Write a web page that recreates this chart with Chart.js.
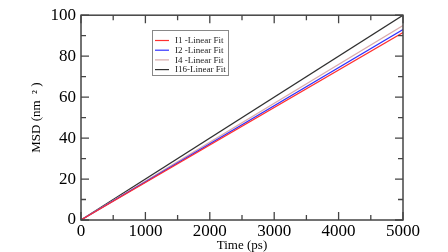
<!DOCTYPE html>
<html>
<head>
<meta charset="utf-8">
<script src="https://cdn.jsdelivr.net/npm/chart.js@4/dist/chart.umd.min.js"></script>
<style>
html,body{margin:0;padding:0;background:#fff;}
#wrap{width:448px;height:252px;}
</style>
</head>
<body>
<div id="wrap"><canvas id="c" width="448" height="252"></canvas></div>
<script>
const timePs = [0, 5000];
const msdI1 = [0, 91.5];
const msdI2 = [0, 93.0];
const msdI4 = [0, 95.0];
const msdI16 = [0, 100.0];
const seriesLabels = ['I1 -Linear Fit', 'I2 -Linear Fit', 'I4 -Linear Fit', 'I16-Linear Fit'];
const seriesColors = ['#ff3030', '#3030ff', '#d9aaaa', '#303030'];
const seriesValues = [msdI1, msdI2, msdI4, msdI16];

const datasets = seriesValues.map((vals, i) => ({
  label: seriesLabels[i],
  data: timePs.map((t, j) => ({x: t, y: vals[j]})),
  borderColor: seriesColors[i],
  backgroundColor: seriesColors[i],
  borderWidth: 1.2,
  pointRadius: 0,
  fill: false,
  tension: 0
}));

const frameTicks = {
  id: 'frameTicks',
  afterDatasetsDraw(chart) {
    const ctx = chart.ctx;
    const a = chart.chartArea;
    const xs = chart.scales.x, ys = chart.scales.y;
    ctx.save();
    ctx.strokeStyle = '#444';
    ctx.lineWidth = 1.5;
    ctx.strokeRect(a.left, a.top, a.right - a.left, a.bottom - a.top);
    ctx.lineWidth = 1.3;
    ctx.beginPath();
    for (let v = xs.min; v <= xs.max + 1e-6; v += 500) {
      const p = xs.getPixelForValue(v);
      const len = (Math.round(v) % 1000 === 0) ? 8 : 5;
      ctx.moveTo(p, a.bottom); ctx.lineTo(p, a.bottom - len);
      ctx.moveTo(p, a.top); ctx.lineTo(p, a.top + len);
    }
    for (let v = ys.min; v <= ys.max + 1e-6; v += 10) {
      const p = ys.getPixelForValue(v);
      const len = (Math.round(v) % 20 === 0) ? 8 : 5;
      ctx.moveTo(a.left, p); ctx.lineTo(a.left + len, p);
      ctx.moveTo(a.right, p); ctx.lineTo(a.right - len, p);
    }
    ctx.stroke();
    ctx.restore();
  }
};

const boxLegend = {
  id: 'boxLegend',
  afterDraw(chart) {
    const ctx = chart.ctx;
    ctx.save();
    ctx.strokeStyle = '#888';
    ctx.lineWidth = 1;
    ctx.strokeRect(152.5, 30.5, 76, 45);
    ctx.font = '9px "Liberation Serif"';
    ctx.textBaseline = 'middle';
    ctx.fillStyle = '#222';
    chart.data.datasets.forEach((ds, i) => {
      const y = 40.5 + i * 9.7;
      ctx.strokeStyle = ds.borderColor;
      ctx.lineWidth = 1.2;
      ctx.beginPath();
      ctx.moveTo(155, y); ctx.lineTo(169, y);
      ctx.stroke();
      ctx.fillText(ds.label, 175, y + 0.5);
    });
    ctx.restore();
  }
};

new Chart(document.getElementById('c'), {
  type: 'line',
  data: { datasets },
  options: {
    responsive: false,
    animation: false,
    devicePixelRatio: 1,
    layout: { padding: { top: 5, right: 45, left: 0, bottom: 0 } },
    plugins: { legend: { display: false }, tooltip: { enabled: false } },
    scales: {
      x: {
        type: 'linear',
        min: 0, max: 5000,
        grid: { display: false, drawTicks: false },
        border: { display: false },
        ticks: { stepSize: 1000, padding: 1, color: '#000', maxRotation: 0,
                 callback: v => String(v),
                 font: { family: 'Liberation Serif', size: 17 } },
        title: { display: true, text: 'Time (ps)', color: '#000',
                 font: { family: 'Liberation Serif', size: 13 }, padding: { top: 0, bottom: -1 } },
        afterFit(s) { s.height = 32; }
      },
      y: {
        type: 'linear',
        min: 0, max: 100,
        grid: { display: false, drawTicks: false },
        border: { display: false },
        ticks: { stepSize: 20, padding: 5, color: '#000',
                 callback: v => String(v),
                 font: { family: 'Liberation Serif', size: 17 } },
        title: { display: true, text: 'MSD (nm  \u00B2 )', color: '#000',
                 font: { family: 'Liberation Serif', size: 13 }, padding: { top: 29, bottom: 0 } },
        afterFit(s) { s.width = 81; }
      }
    }
  },
  plugins: [frameTicks, boxLegend]
});
</script>
</body>
</html>
